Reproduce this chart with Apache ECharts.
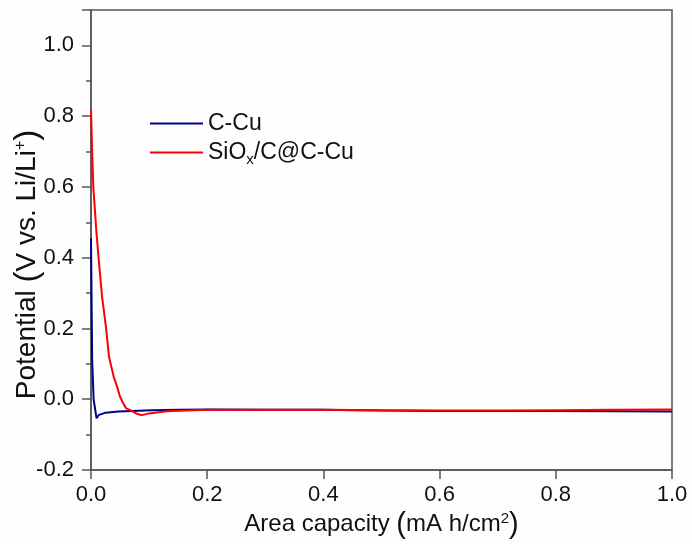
<!DOCTYPE html>
<html>
<head>
<meta charset="utf-8">
<script src="https://cdn.jsdelivr.net/npm/echarts@6/dist/echarts.min.js"></script>
<style>html,body{margin:0;padding:0;background:#fff}#c{width:692px;height:544px}</style>
</head>
<body>
<div id="c"></div>
<script>
// Data
var seriesNames = ['C-Cu', 'SiOx/C@C-Cu'];
var cCuX = [0, 0.002, 0.0045, 0.0096, 0.013, 0.025, 0.047, 0.105, 0.15, 0.2, 0.3, 0.4, 0.45, 0.5, 0.6, 0.7, 0.8, 0.9, 1.0];
var cCuY = [0.455, 0.11, 0.0, -0.054, -0.045, -0.038, -0.035, -0.031, -0.030, -0.029, -0.030, -0.030, -0.031, -0.032, -0.033, -0.033, -0.033, -0.034, -0.035];
var siX = [0, 0.002, 0.004, 0.009, 0.013, 0.019, 0.026, 0.031, 0.039, 0.045, 0.05, 0.055, 0.06, 0.07, 0.08, 0.088, 0.1, 0.13, 0.2, 0.3, 0.4, 0.5, 0.6, 0.7, 0.8, 0.9, 1.0];
var siY = [0.817, 0.70, 0.60, 0.48, 0.40, 0.29, 0.20, 0.12, 0.064, 0.035, 0.007, -0.01, -0.025, -0.033, -0.042, -0.045, -0.040, -0.034, -0.030, -0.030, -0.030, -0.031, -0.032, -0.032, -0.031, -0.030, -0.029];
var xTicks = [0, 0.2, 0.4, 0.6, 0.8, 1.0];
var yTicks = [-0.2, 0, 0.2, 0.4, 0.6, 0.8, 1.0];

function pairs(xs, ys) { return xs.map(function (x, i) { return [x, ys[i]]; }); }

var FONT = '"Liberation Sans", Arial, sans-serif';
var AX = '#555';
var TXT = '#111';
var chart = echarts.init(document.getElementById('c'), null, { renderer: 'canvas' });
chart.setOption({
  backgroundColor: '#fefefe',
  animation: false,
  textStyle: { fontFamily: FONT, color: TXT },
  grid: { left: 91, top: 10, right: 20, bottom: 74, containLabel: false, outerBoundsMode: 'none', show: true, borderColor: AX, borderWidth: 1.5 },
  legend: {
    orient: 'vertical', left: 145, top: 107, itemWidth: 53, itemHeight: 2, itemGap: 6, icon: 'rect',
    textStyle: {
      fontFamily: FONT, fontSize: 23, color: TXT,
      rich: {
        a: { fontFamily: FONT, fontSize: 23, color: TXT, lineHeight: 29, verticalAlign: 'middle' },
        sub: { fontFamily: FONT, fontSize: 15, color: TXT, lineHeight: 9, verticalAlign: 'bottom' }
      }
    },
    formatter: function (n) { return n === 'SiOx/C@C-Cu' ? '{a|SiO}{sub|x}{a|/C@C-Cu}' : '{a|' + n + '}'; },
    data: seriesNames
  },
  xAxis: {
    type: 'value', min: 0, max: 1.0, interval: 0.2,
    name: 'Area capacity {p|(}mA h/cm{sup|2}{p|)}',
    nameLocation: 'middle', nameGap: 40, nameMoveOverlap: false,
    nameTextStyle: {
      fontFamily: FONT, fontSize: 24, color: TXT,
      rich: { p: { fontFamily: FONT, fontSize: 29, color: TXT }, sup: { fontFamily: FONT, fontSize: 15, color: TXT, padding: [0, 0, 12, 0] } }
    },
    axisLine: { show: true, onZero: false, lineStyle: { color: AX, width: 1.5 } },
    axisTick: { show: true, inside: false, length: 9, lineStyle: { color: AX, width: 1.5 } },
    minorTick: { show: false },
    splitLine: { show: false },
    axisLabel: { fontFamily: FONT, fontSize: 22, color: TXT, margin: 14, formatter: function (v) { return v.toFixed(1); } }
  },
  yAxis: {
    type: 'value', min: -0.2, max: 1.1, interval: 0.2,
    name: 'Potential {p|(}V vs. Li/Li{sup|+}{p|)}{g|}',
    nameLocation: 'middle', nameGap: 47, nameRotate: 90, nameMoveOverlap: false,
    nameTextStyle: {
      fontFamily: FONT, fontSize: 28, color: TXT,
      rich: {
        p: { fontFamily: FONT, fontSize: 33, color: TXT },
        sup: { fontFamily: FONT, fontSize: 16, color: TXT, padding: [0, 0, 13, 0] },
        g: { width: 49 }
      }
    },
    axisLine: { show: true, onZero: false, lineStyle: { color: AX, width: 1.5 } },
    axisTick: { show: true, inside: false, length: 9, lineStyle: { color: AX, width: 1.5 } },
    minorTick: { show: true, splitNumber: 2, length: 5, lineStyle: { color: AX, width: 1.5 } },
    splitLine: { show: false },
    axisLabel: {
      fontFamily: FONT, fontSize: 22, color: TXT, margin: 17,
      formatter: function (v) { return yTicks.some(function (t) { return Math.abs(t - v) < 1e-9; }) ? v.toFixed(1) : ''; }
    }
  },
  series: [
    { name: seriesNames[0], type: 'line', data: pairs(cCuX, cCuY), symbol: 'none', smooth: false, lineStyle: { color: '#00008B', width: 2 }, itemStyle: { color: '#00008B' }, z: 2 },
    { name: seriesNames[1], type: 'line', data: pairs(siX, siY), symbol: 'none', smooth: false, lineStyle: { color: '#FF0000', width: 2 }, itemStyle: { color: '#FF0000' }, z: 3 }
  ]
});
</script>
</body>
</html>
